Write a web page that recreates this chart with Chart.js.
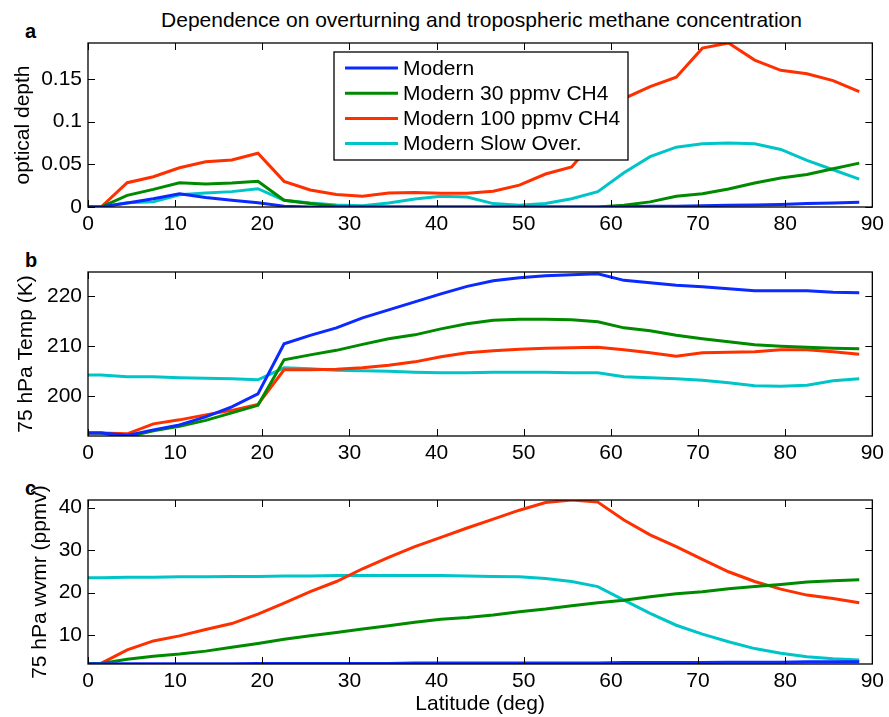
<!DOCTYPE html>
<html>
<head>
<meta charset="utf-8">
<script src="https://cdn.jsdelivr.net/npm/chart.js@4.4.0/dist/chart.umd.min.js"></script>
<style>
  body { margin: 0; background: #fff; width: 889px; height: 717px; position: relative; overflow: hidden;
         font-family: "Liberation Sans", Arial, sans-serif; color: #000; }
  canvas { position: absolute; left: 0; }
  .panel-letter { position: absolute; left: 25px; font-weight: bold; font-size: 20px; line-height: 20px; }
  #title { position: absolute; top: 9px; left: 88px; width: 787px; text-align: center; font-size: 21px; line-height: 21px; }
</style>
</head>
<body>
<div id="title">Dependence on overturning and tropospheric methane concentration</div>
<div class="panel-letter" style="top:21px">a</div>
<div class="panel-letter" style="top:250px">b</div>
<div class="panel-letter" style="top:478px">c</div>
<canvas id="chartA" width="889" height="240" style="top:0px"></canvas>
<canvas id="chartB" width="889" height="230" style="top:240px"></canvas>
<canvas id="chartC" width="889" height="247" style="top:470px"></canvas>
<script>
// ---------------- DATA ----------------
const seriesNames = ['Modern', 'Modern 30 ppmv CH4', 'Modern 100 ppmv CH4', 'Modern Slow Over.'];
const seriesColors = ['#0a2aff', '#008a00', '#ff3000', '#00c5c8'];

const latitude = [0, 1.5, 4.5, 7.5, 10.5, 13.5, 16.5, 19.5, 22.5, 25.5, 28.5, 31.5, 34.5, 37.5, 40.5,
  43.5, 46.5, 49.5, 52.5, 55.5, 58.5, 61.5, 64.5, 67.5, 70.5, 73.5, 76.5, 79.5, 82.5, 85.5, 88.5];
const latTicks = [0, 10, 20, 30, 40, 50, 60, 70, 80, 90];

// a: optical depth
const depthModern = [0, 0, 0.0047, 0.0097, 0.0156, 0.011, 0.0078, 0.005, 0.001, 0, 0, 0, 0, 0, 0,
  0, 0, 0, 0, 0, 0, 0.0004, 0.0008, 0.001, 0.0015, 0.002, 0.0023, 0.003, 0.004, 0.0047, 0.0055];
const depth30 = [0, 0, 0.0136, 0.0206, 0.0284, 0.027, 0.028, 0.030, 0.0078, 0.004, 0.001, 0, 0, 0, 0,
  0, 0, 0, 0, 0, 0, 0.002, 0.006, 0.0125, 0.0156, 0.021, 0.028, 0.034, 0.038, 0.0448, 0.0514];
const depth100 = [0, 0, 0.0284, 0.0354, 0.046, 0.053, 0.055, 0.063, 0.030, 0.020, 0.0146, 0.0126, 0.0165, 0.017, 0.016,
  0.016, 0.0185, 0.0256, 0.0386, 0.047, 0.083, 0.127, 0.141, 0.152, 0.186, 0.192, 0.172, 0.160, 0.156, 0.148, 0.135];
const depthSlow = [0, 0, 0.005, 0.006, 0.0144, 0.0164, 0.018, 0.0214, 0.0078, 0.0047, 0.0023, 0.0016, 0.0047, 0.0094, 0.0125,
  0.0117, 0.004, 0.002, 0.004, 0.0097, 0.018, 0.040, 0.059, 0.070, 0.074, 0.075, 0.074, 0.0674, 0.0545, 0.0436, 0.0327];
const depthTicks = [0, 0.05, 0.1, 0.15];

// b: 75 hPa temperature
const tempModern = [192.67, 192.67, 192.2, 193.3, 194.3, 195.9, 197.9, 200.5, 210.5, 212.2, 213.7, 215.7, 217.3, 218.9, 220.5,
  222.0, 223.1, 223.7, 224.1, 224.3, 224.5, 223.2, 222.7, 222.2, 221.9, 221.5, 221.1, 221.1, 221.1, 220.8, 220.7];
const temp30 = [192.67, 192.67, 191.9, 193.1, 194.0, 195.2, 196.7, 198.2, 207.3, 208.3, 209.2, 210.4, 211.5, 212.3, 213.5,
  214.5, 215.2, 215.4, 215.4, 215.3, 214.9, 213.7, 213.1, 212.2, 211.5, 210.9, 210.3, 210.0, 209.8, 209.6, 209.5];
const temp100 = [192.67, 192.67, 192.5, 194.5, 195.3, 196.3, 197.2, 198.4, 205.3, 205.3, 205.4, 205.7, 206.2, 206.9, 207.9,
  208.7, 209.1, 209.4, 209.6, 209.7, 209.8, 209.3, 208.7, 208.0, 208.7, 208.8, 208.9, 209.3, 209.3, 208.9, 208.4];
const tempSlow = [204.27, 204.27, 203.9, 203.9, 203.7, 203.6, 203.5, 203.3, 205.7, 205.5, 205.2, 205.1, 205.0, 204.8, 204.7,
  204.7, 204.8, 204.8, 204.8, 204.7, 204.7, 203.9, 203.7, 203.5, 203.2, 202.7, 202.1, 202.0, 202.2, 203.1, 203.5];
const tempTicks = [200, 210, 220];

// c: 75 hPa water vapour mixing ratio
const wvmrModern = [3.2, 3.2, 3.2, 3.2, 3.2, 3.2, 3.2, 3.3, 3.3, 3.3, 3.3, 3.3, 3.3, 3.4, 3.4,
  3.4, 3.4, 3.4, 3.4, 3.4, 3.4, 3.5, 3.5, 3.5, 3.5, 3.6, 3.6, 3.6, 3.7, 3.7, 3.7];
const wvmr30 = [3.3, 3.3, 4.3, 5.0, 5.5, 6.2, 7.1, 8.0, 9.0, 9.8, 10.6, 11.4, 12.2, 13.0, 13.7,
  14.1, 14.7, 15.5, 16.1, 16.9, 17.6, 18.2, 19.0, 19.7, 20.2, 20.9, 21.4, 21.9, 22.5, 22.8, 23.0];
const wvmr100 = [3.3, 3.3, 6.5, 8.6, 9.8, 11.3, 12.7, 14.9, 17.5, 20.2, 22.6, 25.6, 28.3, 30.8, 33.0,
  35.2, 37.3, 39.4, 41.2, 41.8, 41.3, 37.1, 33.6, 30.8, 27.8, 24.9, 22.6, 20.8, 19.4, 18.6, 17.6];
const wvmrSlow = [23.5, 23.5, 23.6, 23.6, 23.7, 23.7, 23.8, 23.8, 23.9, 23.9, 24.0, 24.0, 24.0, 24.0, 24.0,
  23.9, 23.8, 23.7, 23.3, 22.6, 21.4, 18.2, 15.1, 12.3, 10.2, 8.4, 6.8, 5.7, 4.9, 4.4, 4.1];
const wvmrTicks = [10, 20, 30, 40];

// ---------------- PLUGINS ----------------
Chart.defaults.font.family = '"Liberation Sans", Arial, sans-serif';
Chart.defaults.font.size = 21;
Chart.defaults.color = '#000';

// box round the plot with inward tick marks on all four sides (matlab look)
const matlabAxes = {
  id: 'matlabAxes',
  afterDatasetsDraw(chart) {
    const { ctx, chartArea: a, scales: { x, y } } = chart;
    const len = 7;
    ctx.save();
    ctx.strokeStyle = '#000';
    ctx.lineWidth = 1;
    ctx.beginPath();
    x.ticks.forEach(t => {
      const px = Math.round(x.getPixelForValue(t.value)) + 0.5;
      ctx.moveTo(px, a.top); ctx.lineTo(px, a.top + len);
      ctx.moveTo(px, a.bottom); ctx.lineTo(px, a.bottom - len);
    });
    y.ticks.forEach(t => {
      const py = Math.round(y.getPixelForValue(t.value)) + 0.5;
      ctx.moveTo(a.left, py); ctx.lineTo(a.left + len, py);
      ctx.moveTo(a.right, py); ctx.lineTo(a.right - len, py);
    });
    ctx.stroke();
    ctx.lineWidth = 1.3;
    ctx.strokeRect(a.left, a.top, a.right - a.left, a.bottom - a.top);
    ctx.restore();
  }
};

// legend box inside panel a
const legendBox = {
  id: 'legendBox',
  afterDraw(chart) {
    const { ctx, chartArea: a } = chart;
    const x = a.left + 246, y = a.top + 9, w = 294, h = 108;
    ctx.save();
    ctx.fillStyle = '#fff';
    ctx.fillRect(x, y, w, h);
    ctx.strokeStyle = '#000';
    ctx.lineWidth = 1.3;
    ctx.strokeRect(x, y, w, h);
    ctx.font = '21px "Liberation Sans", Arial, sans-serif';
    ctx.textBaseline = 'middle';
    chart.data.datasets.forEach((ds, i) => {
      const yy = y + 16 + i * 25.2;
      ctx.strokeStyle = ds.borderColor;
      ctx.lineWidth = 3;
      ctx.beginPath();
      ctx.moveTo(x + 11, yy);
      ctx.lineTo(x + 64, yy);
      ctx.stroke();
      ctx.fillStyle = '#000';
      ctx.fillText(ds.label, x + 69, yy + 1);
    });
    ctx.restore();
  }
};

function makeDatasets(seriesList) {
  return seriesList.map((vals, i) => ({
    label: seriesNames[i],
    data: latitude.map((lat, j) => ({ x: lat, y: vals[j] })),
    borderColor: seriesColors[i],
    backgroundColor: seriesColors[i],
    borderWidth: 3,
    pointRadius: 0,
    tension: 0
  }));
}

function makePanel(id, seriesList, yTicks, yMin, yMax, yTitle, layout, showXTitle, extraPlugins) {
  return new Chart(document.getElementById(id), {
    type: 'line',
    data: { datasets: makeDatasets(seriesList) },
    options: {
      responsive: false,
      animation: false,
      events: [],
      devicePixelRatio: 1,
      layout: { padding: layout.padding },
      plugins: { legend: { display: false }, tooltip: { enabled: false } },
      scales: {
        x: {
          type: 'linear',
          min: 0,
          max: 90,
          grid: { display: false, drawTicks: false },
          border: { display: false },
          afterBuildTicks: s => { s.ticks = latTicks.map(v => ({ value: v })); },
          afterFit: s => { s.height = layout.xHeight; },
          ticks: { padding: 5, maxRotation: 0, autoSkip: false, callback: v => String(v) },
          title: { display: showXTitle, text: 'Latitude (deg)', padding: { top: 0, bottom: 0 } }
        },
        y: {
          type: 'linear',
          min: yMin,
          max: yMax,
          grid: { display: false, drawTicks: false },
          border: { display: false },
          afterBuildTicks: s => { s.ticks = yTicks.map(v => ({ value: v })); },
          afterFit: s => { s.width = 88 - layout.padding.left; },
          ticks: { padding: 6, autoSkip: false, callback: v => String(v) },
          title: { display: true, text: yTitle, padding: { top: 0, bottom: 0 } }
        }
      }
    },
    plugins: [matlabAxes].concat(extraPlugins || [])
  });
}

makePanel('chartA', [depthModern, depth30, depth100, depthSlow], depthTicks, 0, 0.192, 'optical depth',
  { padding: { top: 43, left: 11, right: 14, bottom: 3 }, xHeight: 30 }, false, [legendBox]);

makePanel('chartB', [tempModern, temp30, temp100, tempSlow], tempTicks, 192.07, 224.87, '75 hPa Temp (K)',
  { padding: { top: 32, left: 14, right: 14, bottom: 4 }, xHeight: 30 }, false);

makePanel('chartC', [wvmrModern, wvmr30, wvmr100, wvmrSlow], wvmrTicks, 3.17, 41.8, '75 hPa wvmr (ppmv)',
  { padding: { top: 30, left: 28, right: 14, bottom: 0 }, xHeight: 53 }, true);
</script>
</body>
</html>
